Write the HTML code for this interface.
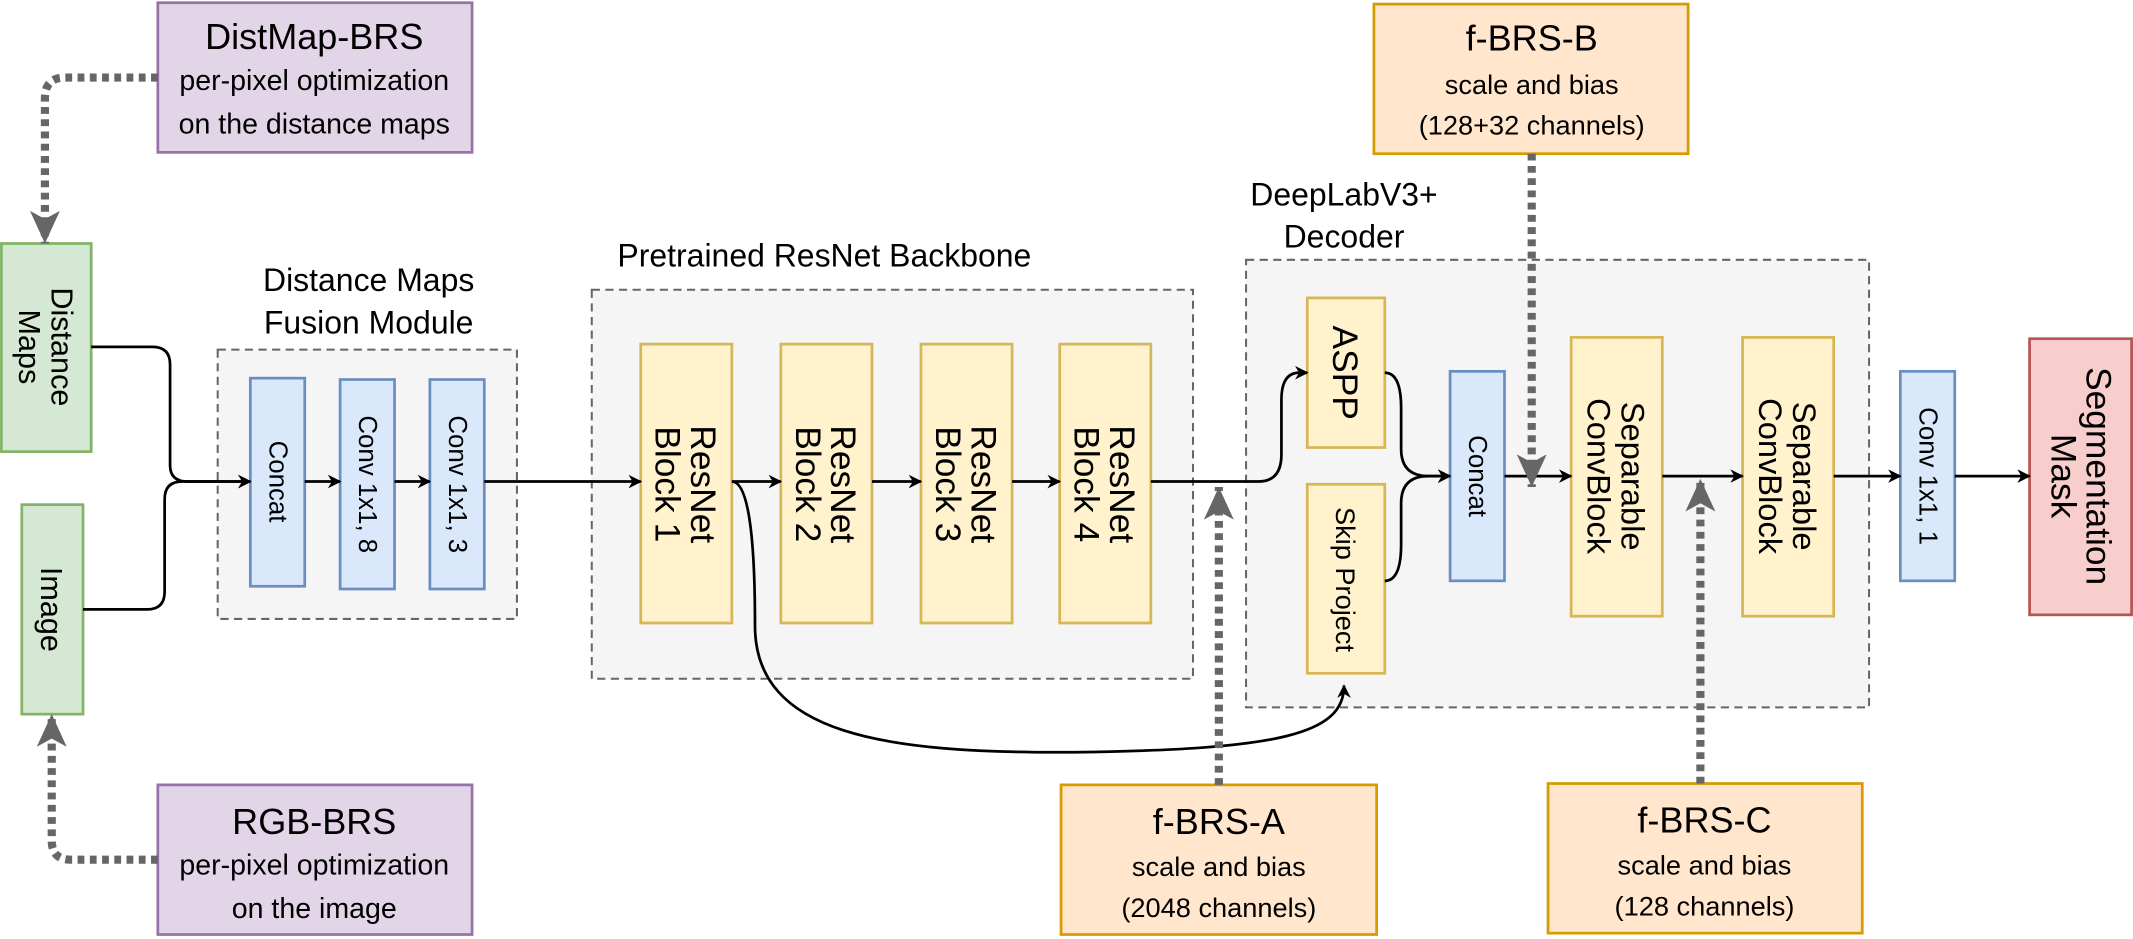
<!DOCTYPE html>
<html><head><meta charset="utf-8"><style>
html,body{margin:0;padding:0;background:#fff;}
svg{display:block;}
text{font-family:"Liberation Sans",sans-serif;fill:#000;}
</style></head><body>
<svg width="2133" height="939" viewBox="0 0 1568 690.3" xmlns="http://www.w3.org/2000/svg">
<defs>
<marker id="a" markerWidth="10" markerHeight="10" refX="9" refY="5" orient="auto" markerUnits="userSpaceOnUse">
<path d="M0,0 L10,5 L0,10 L3,5 Z" fill="#000"/></marker>
<marker id="g" markerWidth="26" markerHeight="26" refX="24" refY="13" orient="auto" markerUnits="userSpaceOnUse">
<path d="M0,2 L24,13 L0,24 L6,13 Z" fill="#666"/></marker>
</defs>
<rect x="160" y="257" width="220" height="198" fill="#f5f5f5" stroke="#666" stroke-width="1.5" stroke-dasharray="6,4"/>
<rect x="435" y="213" width="442" height="286" fill="#f5f5f5" stroke="#666" stroke-width="1.5" stroke-dasharray="6,4"/>
<rect x="916" y="191" width="458" height="329" fill="#f5f5f5" stroke="#666" stroke-width="1.5" stroke-dasharray="6,4"/>
<g font-size="23.5" text-anchor="middle">
<text x="271" y="214">Distance Maps</text><text x="271" y="245">Fusion Module</text>
<text x="606" y="196">Pretrained ResNet Backbone</text>
<text x="988" y="151">DeepLabV3+</text><text x="988" y="182">Decoder</text>
</g>
<g stroke-width="2">
<rect x="116" y="2" width="231" height="110" fill="#e1d5e7" stroke="#9673a6"/>
<rect x="116" y="577" width="231" height="110" fill="#e1d5e7" stroke="#9673a6"/>
<rect x="1010" y="3" width="231" height="110" fill="#ffe6cc" stroke="#d79b00"/>
<rect x="780" y="577" width="232" height="110" fill="#ffe6cc" stroke="#d79b00"/>
<rect x="1138" y="576" width="231" height="110" fill="#ffe6cc" stroke="#d79b00"/>
<rect x="1" y="179" width="66" height="153" fill="#d5e8d4" stroke="#82b366"/>
<rect x="16" y="371" width="45" height="154" fill="#d5e8d4" stroke="#82b366"/>
<rect x="1492" y="249" width="75" height="203" fill="#f8cecc" stroke="#b85450"/>
</g>
<g text-anchor="middle">
<text x="231" y="36" font-size="26.5">DistMap-BRS</text>
<text x="231" y="66" font-size="21">per-pixel optimization</text>
<text x="231" y="98" font-size="21">on the distance maps</text>
<text x="231" y="613" font-size="26.5">RGB-BRS</text>
<text x="231" y="643" font-size="21">per-pixel optimization</text>
<text x="231" y="675" font-size="21">on the image</text>
<text x="1126" y="37" font-size="26.5">f-BRS-B</text>
<text x="1126" y="69" font-size="20">scale and bias</text>
<text x="1126" y="99" font-size="20">(128+32 channels)</text>
<text x="896" y="613" font-size="26.5">f-BRS-A</text>
<text x="896" y="644" font-size="20">scale and bias</text>
<text x="896" y="674" font-size="20">(2048 channels)</text>
<text x="1253" y="612" font-size="26.5">f-BRS-C</text>
<text x="1253" y="643" font-size="20">scale and bias</text>
<text x="1253" y="673" font-size="20">(128 channels)</text>
</g>
<g font-size="22.5" text-anchor="middle">
<text transform="translate(34,255) rotate(90)" y="-4">Distance</text>
<text transform="translate(34,255) rotate(90)" y="20">Maps</text>
<text transform="translate(38,448) rotate(90)" y="8">Image</text>
<text transform="translate(1529,350) rotate(90)" y="-5" font-size="26">Segmentation</text>
<text transform="translate(1529,350) rotate(90)" y="21" font-size="26">Mask</text>
</g>
<g fill="#dae8fc" stroke="#6c8ebf" stroke-width="2">
<rect x="184" y="278" width="40" height="153"/>
<rect x="250" y="279" width="40" height="154"/>
<rect x="316" y="279" width="40" height="154"/>
<rect x="1066" y="273" width="40" height="154"/>
<rect x="1397" y="273" width="40" height="154"/>
</g>
<g font-size="19" text-anchor="middle">
<text transform="translate(204,354) rotate(90)" y="6">Concat</text>
<text transform="translate(270,356) rotate(90)" y="6">Conv 1x1, 8</text>
<text transform="translate(336,356) rotate(90)" y="6">Conv 1x1, 3</text>
<text transform="translate(1086,350) rotate(90)" y="6">Concat</text>
<text transform="translate(1417,350) rotate(90)" y="6">Conv 1x1, 1</text>
</g>
<g fill="#fff2cc" stroke="#d6b656" stroke-width="2">
<rect x="471" y="253" width="67" height="205"/>
<rect x="574" y="253" width="67" height="205"/>
<rect x="677" y="253" width="67" height="205"/>
<rect x="779" y="253" width="67" height="205"/>
<rect x="961" y="219" width="57" height="110"/>
<rect x="961" y="356" width="57" height="139"/>
<rect x="1155" y="248" width="67" height="205"/>
<rect x="1281" y="248" width="67" height="205"/>
</g>
<g font-size="26" text-anchor="middle">
<text transform="translate(504,356) rotate(90)" y="-4">ResNet</text><text transform="translate(504,356) rotate(90)" y="22">Block 1</text>
<text transform="translate(607,356) rotate(90)" y="-4">ResNet</text><text transform="translate(607,356) rotate(90)" y="22">Block 2</text>
<text transform="translate(710,356) rotate(90)" y="-4">ResNet</text><text transform="translate(710,356) rotate(90)" y="22">Block 3</text>
<text transform="translate(812,356) rotate(90)" y="-4">ResNet</text><text transform="translate(812,356) rotate(90)" y="22">Block 4</text>
<text transform="translate(989,274) rotate(90)" y="9">ASPP</text>
<text transform="translate(1188,350) rotate(90)" y="-4" font-size="24">Separable</text><text transform="translate(1188,350) rotate(90)" y="21" font-size="24">ConvBlock</text>
<text transform="translate(1314,350) rotate(90)" y="-4" font-size="24">Separable</text><text transform="translate(1314,350) rotate(90)" y="21" font-size="24">ConvBlock</text>
<text transform="translate(989,426) rotate(90)" y="7" font-size="20">Skip Project</text>
</g>
<g fill="none" stroke="#000" stroke-width="2">
<path d="M67,255 H112 Q125,255 125,268 V342 Q125,354 138,354 H184" marker-end="url(#a)"/>
<path d="M61,448 H108 Q121,448 121,435 V367 Q121,354 134,354 H184" marker-end="url(#a)"/>
<path d="M224,354 H250" marker-end="url(#a)"/>
<path d="M290,354 H316" marker-end="url(#a)"/>
<path d="M356,354 H471" marker-end="url(#a)"/>
<path d="M538,354 H574" marker-end="url(#a)"/>
<path d="M641,354 H677" marker-end="url(#a)"/>
<path d="M744,354 H779" marker-end="url(#a)"/>
<path d="M846,354 H925 Q942,354 942,334 V294 Q942,274 955,274 H961" marker-end="url(#a)"/>
<path d="M1018,274 Q1030,274 1030,300 V330 Q1030,350 1050,350 H1066" marker-end="url(#a)"/>
<path d="M1018,427 Q1030,427 1030,400 V370 Q1030,350 1050,350 H1066" marker-end="url(#a)"/>
<path d="M1106,350 H1155" marker-end="url(#a)"/>
<path d="M1222,350 H1281" marker-end="url(#a)"/>
<path d="M1348,350 H1397" marker-end="url(#a)"/>
<path d="M1437,350 H1492" marker-end="url(#a)"/>
<path d="M538,354 Q555,354 555,460 C555,540 650,554 790,553 C940,551 988,540 988,504" marker-end="url(#a)"/>
</g>
<g fill="none" stroke="#666" stroke-width="6" stroke-dasharray="5,4">
<path d="M116,57 H48 Q33,57 33,72 V179" marker-end="url(#g)"/>
<path d="M116,632 H52 Q38,632 38,618 V525" marker-end="url(#g)"/>
<path d="M1126,113 V358" marker-end="url(#g)"/>
<path d="M896,577 V358" marker-end="url(#g)"/>
<path d="M1250,576 V352" marker-end="url(#g)"/>
</g>
</svg>
</body></html>
